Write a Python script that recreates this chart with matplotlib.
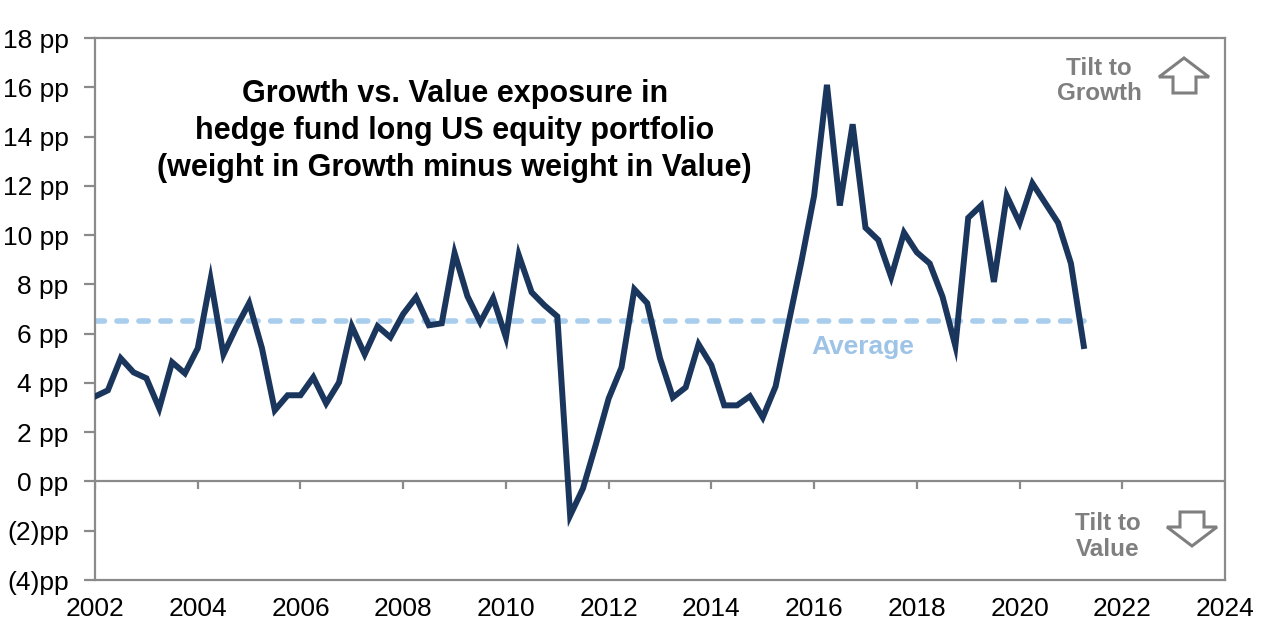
import numpy as np
import matplotlib
matplotlib.use('Agg')
import matplotlib.pyplot as plt
from matplotlib.patches import Polygon
from matplotlib.transforms import IdentityTransform

plt.rcParams['font.family'] = ['Liberation Sans', 'DejaVu Sans']

# quarterly series, 2002Q1 .. 2021Q2
start_year = 2002
spread = [3.45, 3.7, 5.0, 4.43, 4.19, 2.97, 4.84, 4.39, 5.41, 8.2,
          5.16, 6.26, 7.24, 5.41, 2.89, 3.5, 3.5, 4.23, 3.17, 4.02,
          6.3, 5.16, 6.3, 5.85, 6.8, 7.48, 6.34, 6.42, 9.27, 7.52,
          6.46, 7.44, 5.85, 9.19, 7.68, 7.15, 6.7, -1.38, -0.28, 1.5,
          3.37, 4.63, 7.8, 7.24, 5.0, 3.41, 3.82, 5.57, 4.72, 3.09,
          3.09, 3.46, 2.6, 3.86, 6.4, 8.9, 11.6, 16.1, 11.2, 14.5,
          10.3, 9.8, 8.3, 10.1, 9.3, 8.85, 7.5, 5.5, 10.7, 11.2,
          8.1, 11.6, 10.5, 12.1, 11.3, 10.5, 8.85, 5.5]
average = 6.5
x_ticks = list(range(2002, 2025, 2))
y_ticks = list(range(-4, 19, 2))
y_labels = ['(4)pp', '(2)pp'] + ['%d pp' % v for v in y_ticks[2:]]

dates = start_year + np.arange(len(spread)) * 0.25

navy = '#1b365d'
light_blue = '#a9cdec'
gray = '#8a8a8a'

fig = plt.figure(figsize=(12.79, 6.39), dpi=100)
ax = fig.add_axes([0.0743, 0.0923, 0.8835, 0.8482])

ax.plot(dates, spread, color=navy, lw=4.3, solid_joinstyle='miter', zorder=3)
ax.hlines(average, dates[0], dates[-1], color=light_blue, lw=4,
          linestyles=(0, (1.7, 2.25)), capstyle='round', zorder=2)
ax.axhline(0, color=gray, lw=1.6, zorder=1)
ax.vlines(x_ticks, -0.3, 0, color=gray, lw=1.6, zorder=1)

ax.set_xlim(2002, 2024)
ax.set_ylim(-4, 18)
ax.set_xticks(x_ticks)
ax.set_yticks(y_ticks)
ax.set_yticklabels(y_labels)
ax.tick_params(axis='x', length=0, pad=12, labelsize=19)
ax.tick_params(axis='y', length=8, width=1.6, color=gray, pad=11, labelsize=19)
for s in ax.spines.values():
    s.set_color(gray)
    s.set_linewidth(1.6)

ax.text(2009, 14.23, 'Growth vs. Value exposure in\nhedge fund long US equity portfolio\n'
        '(weight in Growth minus weight in Value)', ha='center', va='center',
        fontsize=22, fontweight='bold', linespacing=1.3)
ax.text(2016.95, 5.45, 'Average', ha='center', va='center', fontsize=19,
        fontweight='bold', color='#9dc3e6')
ax.text(2021.55, 16.25, 'Tilt to\nGrowth', ha='center', va='center', fontsize=17.5,
        fontweight='bold', color='#7f7f7f', linespacing=1.15)
ax.text(2021.72, -2.22, 'Tilt to\nValue', ha='center', va='center', fontsize=17.5,
        fontweight='bold', color='#7f7f7f', linespacing=1.15)

# hollow block arrows (pixel coords, origin bottom-left)
H = 639
up = [(1184, 58), (1209, 77), (1196, 77), (1196, 93), (1173, 93), (1173, 77), (1159, 77)]
down = [(1180, 512), (1204, 512), (1204, 527), (1217, 527), (1192, 546), (1167, 527), (1180, 527)]
for pts in (up, down):
    fig.patches.append(Polygon([(px, H - py) for px, py in pts], closed=True,
                               facecolor='white', edgecolor='#7f7f7f', lw=2.2,
                               transform=IdentityTransform(), figure=fig))

fig.savefig('out.png', dpi=100)
